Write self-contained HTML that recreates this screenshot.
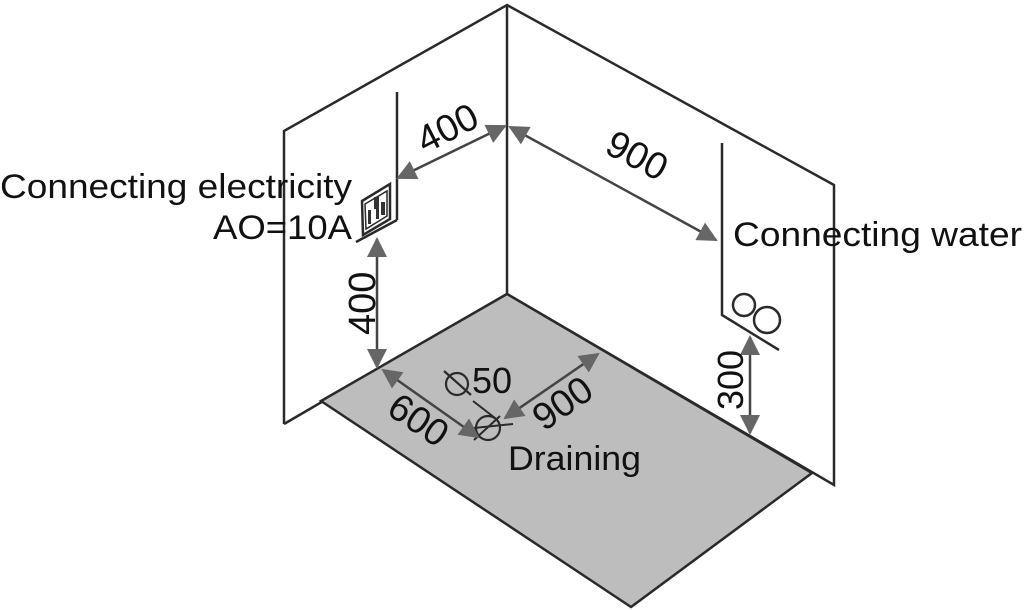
<!DOCTYPE html>
<html><head><style>html,body{margin:0;padding:0;background:#fff;}svg{display:block}</style></head>
<body>
<svg width="1024" height="610" viewBox="0 0 1024 610" xmlns="http://www.w3.org/2000/svg" font-family="Liberation Sans, sans-serif">
<defs>
<marker id="b" viewBox="0 0 10 10" refX="9" refY="5" markerWidth="26" markerHeight="20" orient="auto-start-reverse" markerUnits="userSpaceOnUse"><path d="M0,0 L10,5 L0,10 z" fill="#666"/></marker>
</defs>
<g fill="none" stroke="#2a2a2a" stroke-width="2.5">
<polyline points="284,424 284,131 507,5 834,185 834,485 507,294 284,424"/>
<line x1="507" y1="5" x2="507" y2="294"/>
</g>
<polygon points="507,294 321,401 631,607 812,473" fill="#bdbdbd" stroke="#2a2a2a" stroke-width="2.5"/>
<g fill="none" stroke="#2a2a2a" stroke-width="2.5">
<line x1="397" y1="92" x2="397" y2="220"/>
<line x1="356" y1="242" x2="397" y2="220"/>
<polygon points="362,201 390,184 390,219 363,235"/>
<polygon points="365,204 387,191 387,216 366,229" stroke-width="1.5"/>
<g fill="#333" stroke="none">
<rect x="368" y="210" width="3" height="14"/>
<rect x="374" y="197" width="5" height="12"/>
<rect x="376" y="209" width="3" height="10"/>
<rect x="381" y="202" width="4" height="13"/>
</g>
<polyline points="722,143 722,315 779,350"/>
<circle cx="744" cy="305" r="11" stroke-width="2.5"/>
<circle cx="767" cy="320" r="13" stroke-width="2.5"/>
<circle cx="488" cy="428" r="12" stroke-width="2.2"/>
<line x1="474" y1="428" x2="513" y2="424" stroke-width="2"/>
<line x1="473" y1="401" x2="495" y2="418" stroke-width="2"/>
<line x1="474" y1="440" x2="500" y2="416" stroke-width="2"/>
<circle cx="457" cy="384" r="11" stroke-width="2.2"/>
<line x1="444" y1="371" x2="471" y2="395" stroke-width="2.2"/>
</g>
<g stroke="#444" stroke-width="2.5" fill="none" marker-start="url(#b)" marker-end="url(#b)">
<line x1="398" y1="178" x2="505" y2="126"/>
<line x1="510" y1="127" x2="716" y2="240"/>
<line x1="377" y1="239" x2="377" y2="367"/>
<line x1="750" y1="337" x2="750" y2="433"/>
<line x1="383" y1="370" x2="478" y2="437"/>
<line x1="598" y1="354" x2="505" y2="418"/>
</g>
<g fill="#111" font-size="34">
<text x="0" y="198" textLength="352" lengthAdjust="spacingAndGlyphs">Connecting electricity</text>
<text x="213" y="239" textLength="139" lengthAdjust="spacingAndGlyphs">AO=10A</text>
<text x="733" y="246" textLength="289" lengthAdjust="spacingAndGlyphs">Connecting water</text>
<text x="508" y="470" textLength="133" lengthAdjust="spacingAndGlyphs">Draining</text>
<text x="472" y="393" font-size="36">50</text>
<text transform="translate(425,154) rotate(-27)" font-size="38">400</text>
<text transform="translate(603,152) rotate(28)" font-size="38">900</text>
<text transform="translate(375,335) rotate(-90)" font-size="38">400</text>
<text transform="translate(743,410) rotate(-90)" font-size="36">300</text>
<text transform="translate(385,413) rotate(34)" font-size="38">600</text>
<text transform="translate(544,432) rotate(-35)" font-size="38">900</text>
</g>
</svg>
</body></html>
